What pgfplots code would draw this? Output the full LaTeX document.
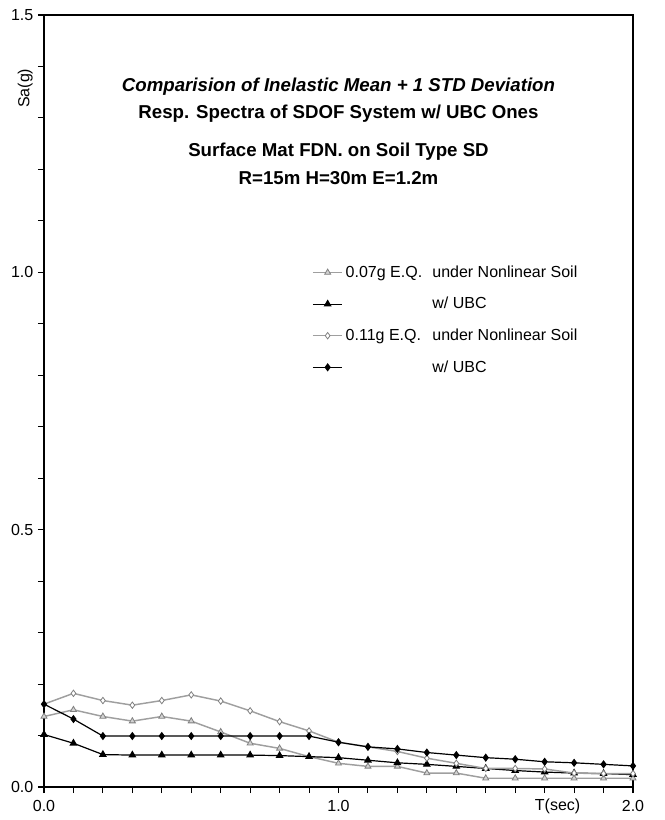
\documentclass[border=0pt]{standalone}
\usepackage{pgfplots}
\pgfplotsset{compat=1.18}
\usepackage{fontspec}
\setmainfont{Liberation Sans}

\begin{document}
\begin{tikzpicture}
% 0.07g E.Q. under nonlinear soil
\pgfplotstableread{
T Sa
0.0 0.137
0.1 0.150
0.2 0.137
0.3 0.128
0.4 0.137
0.5 0.128
0.6 0.107
0.7 0.085
0.8 0.075
0.9 0.059
1.0 0.046
1.1 0.040
1.2 0.040
1.3 0.027
1.4 0.027
1.5 0.017
1.6 0.017
1.7 0.017
1.8 0.017
1.9 0.017
2.0 0.017
}\aNL
% 0.07g w/ UBC
\pgfplotstableread{
T Sa
0.0 0.102
0.1 0.085
0.2 0.063
0.3 0.062
0.4 0.062
0.5 0.062
0.6 0.062
0.7 0.062
0.8 0.061
0.9 0.059
1.0 0.057
1.1 0.052
1.2 0.047
1.3 0.044
1.4 0.040
1.5 0.036
1.6 0.032
1.7 0.029
1.8 0.027
1.9 0.026
2.0 0.024
}\aUBC
% 0.11g E.Q. under nonlinear soil
\pgfplotstableread{
T Sa
0.0 0.161
0.1 0.182
0.2 0.168
0.3 0.159
0.4 0.168
0.5 0.179
0.6 0.167
0.7 0.148
0.8 0.127
0.9 0.109
1.0 0.087
1.1 0.078
1.2 0.069
1.3 0.056
1.4 0.046
1.5 0.036
1.6 0.036
1.7 0.035
1.8 0.027
1.9 0.026
2.0 0.026
}\bNL
% 0.11g w/ UBC
\pgfplotstableread{
T Sa
0.0 0.161
0.1 0.132
0.2 0.099
0.3 0.099
0.4 0.099
0.5 0.099
0.6 0.099
0.7 0.099
0.8 0.099
0.9 0.099
1.0 0.087
1.1 0.078
1.2 0.074
1.3 0.067
1.4 0.062
1.5 0.057
1.6 0.054
1.7 0.049
1.8 0.047
1.9 0.044
2.0 0.041
}\bUBC

\begin{axis}[
    at={(0,0)}, anchor=south west,
    scale only axis,
    width=441.75pt, height=579pt,
    xmin=0, xmax=2, ymin=0, ymax=1.5,
    axis line style={line width=1pt},
    xtick={0,1,2}, ytick={0,0.5,1,1.5},
    minor x tick num=9, minor y tick num=4,
    xticklabels={0.0,1.0,2.0},
    yticklabels={0.0,0.5,1.0,1.5},
    tick align=outside,
    major tick length=4.5pt, minor tick length=4.5pt,
    xtick pos=bottom, ytick pos=left,
    tick style={black, line width=0.8pt},
    tick label style={font=\fontsize{12}{14}\selectfont},
    xticklabel style={yshift=-2pt},
    /pgf/number format/assume math mode=true,
    xlabel={T(sec)},
    xlabel style={font=\fontsize{12}{14}\selectfont, at={(axis description cs:0.872,0)}, anchor=north, yshift=-5.5pt},
    ylabel={Sa(g)},
    ylabel style={font=\fontsize{12}{14}\selectfont, at={(axis description cs:-0.032,0.905)}, anchor=center},
    legend style={at={(axis description cs:0.455,0.679)}, anchor=north west,
        draw=none, fill=none, font=\fontsize{12}{14}\selectfont,
        row sep=9.5pt, inner sep=0pt},
    legend cell align=left,
    legend image code/.code={
        \draw[mark repeat=2, mark phase=2, #1] plot coordinates {(0pt,0pt) (11pt,0pt) (22pt,0pt)};
    },
    clip=false,
]
\addplot[gray!75, line width=1.1pt, mark=triangle*, mark size=2.6pt,
    mark options={fill=gray!35, draw=gray, line width=0.6pt}] table[x=T, y=Sa] {\aNL};
\addlegendentry{\makebox[65pt][l]{0.07g E.Q.}under Nonlinear Soil}
\addplot[black, line width=0.9pt, mark=triangle*, mark size=2.6pt,
    mark options={fill=black}] table[x=T, y=Sa] {\aUBC};
\addlegendentry{\makebox[65pt][l]{}w/ UBC}
\addplot[gray!75, line width=1.1pt, mark=diamond*, mark size=2.4pt,
    mark options={fill=white, draw=gray, line width=0.6pt}] table[x=T, y=Sa] {\bNL};
\addlegendentry{\makebox[65pt][l]{0.11g E.Q.}under Nonlinear Soil}
\addplot[black, line width=0.9pt, mark=diamond*, mark size=2.4pt,
    mark options={fill=black}] table[x=T, y=Sa] {\bUBC};
\addlegendentry{\makebox[65pt][l]{}w/ UBC}

\node[font=\bfseries\itshape\fontsize{14}{20}\selectfont, anchor=center] at (axis description cs:0.5,0.907) {Comparision of Inelastic Mean + 1 STD Deviation};
\node[font=\bfseries\fontsize{14}{20}\selectfont, anchor=center] at (axis description cs:0.5,0.872) {Resp. Spectra of SDOF System w/ UBC Ones};
\node[font=\bfseries\fontsize{14}{20}\selectfont, anchor=center] at (axis description cs:0.5,0.823) {Surface Mat FDN. on Soil Type SD};
\node[font=\bfseries\fontsize{14}{20}\selectfont, anchor=center] at (axis description cs:0.5,0.789) {R=15m H=30m E=1.2m};
\end{axis}
\pgfresetboundingbox
\path[use as bounding box] (-33pt,-24.75pt) rectangle (465pt,590.25pt);
\end{tikzpicture}
\end{document}
